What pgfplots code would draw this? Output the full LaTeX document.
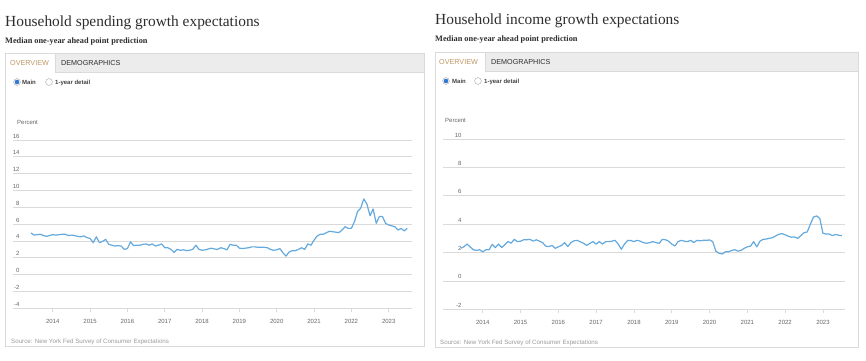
\documentclass[border=0pt]{standalone}
\usepackage{fontspec}
\setmainfont{Liberation Sans}
\newfontfamily\titlefont{Liberation Serif}
\usepackage{pgfplots}
\usepackage{pgfplotstable}
\pgfplotsset{compat=1.18}
\definecolor{lineblue}{RGB}{100,170,222}
\definecolor{gridgray}{RGB}{218,218,218}
\definecolor{ticktext}{RGB}{102,102,102}
\definecolor{titlegray}{RGB}{45,45,45}
\definecolor{srcgray}{RGB}{155,155,155}
\definecolor{tabbar}{RGB}{236,236,236}
\definecolor{boxgray}{RGB}{218,218,218}
\definecolor{tan}{RGB}{190,150,100}
\definecolor{radioblue}{RGB}{50,120,215}

% i = month index, 0 = June 2013
\pgfplotstableread{
i s n
0 4.95 2.30
1 4.70 2.40
2 4.75 2.60
3 4.80 2.40
4 4.65 2.20
5 4.55 2.15
6 4.65 2.20
7 4.75 2.05
8 4.70 2.20
9 4.75 2.20
10 4.80 2.58
11 4.80 2.35
12 4.65 2.60
13 4.70 2.35
14 4.65 2.55
15 4.55 2.77
16 4.50 2.66
17 4.60 2.93
18 4.40 2.77
19 4.30 2.80
20 3.80 2.90
21 4.50 2.90
22 3.80 2.93
23 3.95 2.80
24 4.20 2.90
25 3.60 2.80
26 3.50 2.70
27 3.40 2.45
28 3.45 2.42
29 3.40 2.50
30 3.00 2.30
31 3.10 2.40
32 3.90 2.50
33 3.45 2.70
34 3.50 2.42
35 3.50 2.70
36 3.60 2.83
37 3.65 2.86
38 3.50 2.75
39 3.65 2.65
40 3.40 2.50
41 3.50 2.65
42 3.65 2.77
43 3.20 2.60
44 3.20 2.77
45 3.00 2.60
46 2.65 2.77
47 3.00 2.77
48 2.90 2.80
49 2.95 2.86
50 2.85 2.60
51 2.90 2.23
52 3.00 2.60
53 3.50 2.85
54 3.00 2.85
55 2.90 2.77
56 2.95 2.86
57 3.05 2.80
58 3.15 2.70
59 3.05 2.65
60 3.00 2.70
61 3.20 2.77
62 3.10 2.70
63 2.95 2.65
64 3.60 2.93
65 3.50 2.90
66 3.50 2.80
67 3.15 2.60
68 3.10 2.46
69 3.15 2.77
70 3.20 2.86
71 3.30 2.80
72 3.30 2.77
73 3.25 2.86
74 3.25 2.70
75 3.25 2.86
76 3.20 2.83
77 3.00 2.86
78 2.90 2.86
79 2.95 2.89
80 3.10 2.77
81 2.60 2.10
82 2.20 1.95
83 2.70 1.90
84 2.85 2.05
85 2.85 2.05
86 3.00 2.15
87 3.20 2.20
88 3.00 2.10
89 3.65 2.15
90 3.50 2.30
91 4.10 2.40
92 4.60 2.45
93 4.80 2.77
94 4.80 2.40
95 5.00 2.80
96 5.15 2.93
97 5.10 2.95
98 5.05 3.00
99 5.00 3.05
100 5.30 3.17
101 5.70 3.29
102 5.50 3.33
103 5.50 3.25
104 6.30 3.15
105 7.50 3.08
106 7.90 3.10
107 9.00 3.00
108 8.40 3.20
109 7.00 3.40
110 7.80 3.45
111 6.10 4.00
112 6.90 4.50
113 6.90 4.58
114 6.10 4.40
115 5.90 3.36
116 5.80 3.30
117 5.70 3.30
118 5.30 3.19
119 5.50 3.28
120 5.20 3.22
121 5.50 3.19
}\datatable

\pgfplotsset{
  sce/.style={
    scale only axis,
    anchor=south west,
    axis x line*=bottom,
    axis y line*=left,
    x axis line style={draw=gridgray, line width=0.8pt},
    y axis line style={draw=none},
    ytick style={draw=none},
    xtick style={draw=gridgray, line width=0.8pt},
    tick align=outside,
    major tick length=4pt,
    ymajorgrids,
    major grid style={draw=gridgray, line width=0.8pt},
    xtick={7,19,...,115},
    xticklabels={2014,2015,2016,2017,2018,2019,2020,2021,2022,2023},
    tick label style={font=\fontsize{6}{7}\selectfont, text=ticktext},
    /pgf/number format/assume math mode=true,
    xticklabel style={anchor=center, yshift=-9pt},
    yticklabel style={anchor=base east, xshift=14pt, yshift=2pt},
    clip=false,
  }
}

\begin{document}
\begin{tikzpicture}
\begin{scope}[x=1pt, y=-1pt]
\useasboundingbox (0,0) rectangle (866,360);
% ---------- left panel ----------
\node[anchor=base west, inner sep=0, text=titlegray, font=\titlefont\fontsize{15.4}{18}\selectfont] at (5,26) {Household spending growth expectations};
\node[anchor=base west, inner sep=0, text=titlegray, font=\titlefont\bfseries\fontsize{8.3}{10}\selectfont] at (5,43.5) {Median one-year ahead point prediction};
\fill[white] (5,53) rectangle (424,346);
\fill[tabbar] (5,53) rectangle (424,72);
\fill[white] (5,53) rectangle (55,72);
\draw[boxgray, line width=0.8pt] (5,53) rectangle (424,346);
\draw[boxgray, line width=0.6pt] (55,53) -- (55,72) -- (424,72);
\node[anchor=base west, inner sep=0, text=tan, font=\fontsize{7.2}{8}\selectfont] at (10,65) {OVERVIEW};
\node[anchor=base west, inner sep=0, text=titlegray, font=\fontsize{7.2}{8}\selectfont] at (61,65) {DEMOGRAPHICS};
\draw[gray!70, fill=white] (17,82) circle (3.4);
\fill[radioblue] (17,82) circle (2.3);
\node[anchor=base west, inner sep=0, text=titlegray!90, font=\bfseries\fontsize{6}{7}\selectfont] at (22,84.2) {Main};
\draw[gray!70, fill=white] (49,82) circle (3.4);
\node[anchor=base west, inner sep=0, text=titlegray!90, font=\bfseries\fontsize{6}{7}\selectfont] at (55,84.2) {1-year detail};
\node[anchor=base west, inner sep=0, text=ticktext, font=\fontsize{6}{7}\selectfont] at (17,124.5) {Percent};
\node[anchor=base west, inner sep=0, text=srcgray, font=\fontsize{6.2}{7}\selectfont] at (11,343) {Source: New York Fed Survey of Consumer Expectations};
% ---------- right panel ----------
\node[anchor=base west, inner sep=0, text=titlegray, font=\titlefont\fontsize{15.4}{18}\selectfont] at (435,24) {Household income growth expectations};
\node[anchor=base west, inner sep=0, text=titlegray, font=\titlefont\bfseries\fontsize{8.3}{10}\selectfont] at (435,41) {Median one-year ahead point prediction};
\fill[white] (435,52) rectangle (858,347);
\fill[tabbar] (435,52) rectangle (858,71);
\fill[white] (435,52) rectangle (485,71);
\draw[boxgray, line width=0.8pt] (435,52) rectangle (858,347);
\draw[boxgray, line width=0.6pt] (485,52) -- (485,71) -- (858,71);
\node[anchor=base west, inner sep=0, text=tan, font=\fontsize{7.2}{8}\selectfont] at (439,64) {OVERVIEW};
\node[anchor=base west, inner sep=0, text=titlegray, font=\fontsize{7.2}{8}\selectfont] at (491,64) {DEMOGRAPHICS};
\draw[gray!70, fill=white] (446,81) circle (3.4);
\fill[radioblue] (446,81) circle (2.3);
\node[anchor=base west, inner sep=0, text=titlegray!90, font=\bfseries\fontsize{6}{7}\selectfont] at (452,83.2) {Main};
\draw[gray!70, fill=white] (478,81) circle (3.4);
\node[anchor=base west, inner sep=0, text=titlegray!90, font=\bfseries\fontsize{6}{7}\selectfont] at (484,83.2) {1-year detail};
\node[anchor=base west, inner sep=0, text=ticktext, font=\fontsize{6}{7}\selectfont] at (445,122.5) {Percent};
\node[anchor=base west, inner sep=0, text=srcgray, font=\fontsize{6.2}{7}\selectfont] at (440,344.5) {Source: New York Fed Survey of Consumer Expectations};
\end{scope}

% ---------- left chart ----------
\begin{axis}[sce,
  at={(13pt,-308.3pt)},
  width=399pt, height=168.3pt,
  xmin=-5.79, xmax=122.5,
  ymin=-4, ymax=16,
  ytick={-4,-2,...,16},
]
\addplot[lineblue, line width=1.2pt, line join=round] table[x=i, y=s] {\datatable};
\end{axis}

% ---------- right chart ----------
\begin{axis}[sce,
  at={(443pt,-309.3pt)},
  width=402pt, height=170.3pt,
  xmin=-5.62, xmax=122.0,
  ymin=-2, ymax=10,
  ytick={-2,0,...,10},
  yticklabel style={xshift=12pt},
]
\addplot[lineblue, line width=1.2pt, line join=round] table[x=i, y=n] {\datatable};
\end{axis}
\end{tikzpicture}
\end{document}
